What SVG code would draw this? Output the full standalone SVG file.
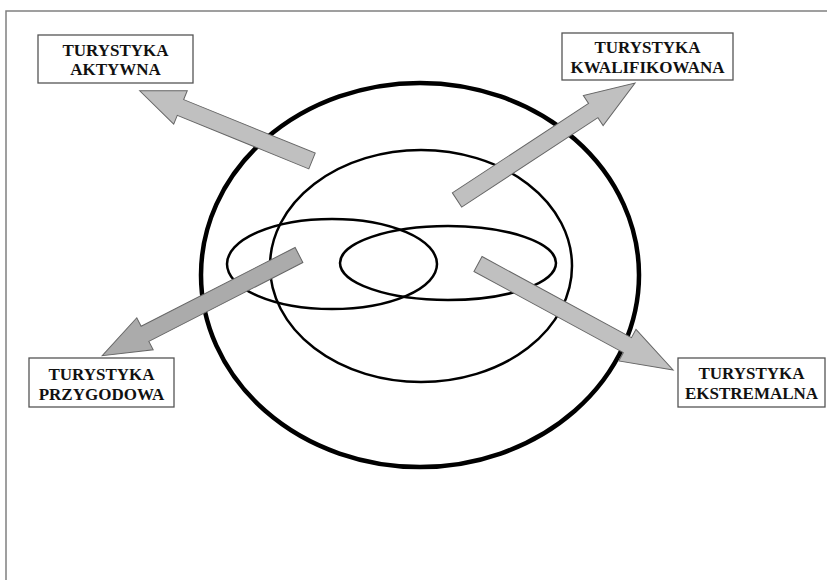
<svg xmlns="http://www.w3.org/2000/svg" width="827" height="580" viewBox="0 0 827 580">
<style>
.frame{fill:none;stroke:#808080;stroke-width:1.5}
.box{fill:#fff;stroke:#555;stroke-width:1.3}
.lbl{font-family:"Liberation Serif","Times New Roman",serif;font-weight:bold;font-size:17px;fill:#111;text-anchor:middle}
.ring{fill:none;stroke:#000}
.arr{fill:#c0c0c0;stroke:#666;stroke-width:1}
</style>
<rect width="827" height="580" fill="#fff"/>
<path class="frame" d="M6,580 V11 H827"/>
<g id="circles">
<ellipse id="outer" class="ring" cx="420" cy="275" rx="219" ry="192" stroke-width="4.5"/>
<ellipse id="middle" class="ring" cx="421" cy="266" rx="151" ry="116" stroke-width="2.5"/>
<ellipse id="left-ellipse" class="ring" cx="332" cy="264" rx="105" ry="45" stroke-width="2.5"/>
<ellipse id="right-ellipse" class="ring" cx="448" cy="263" rx="108" ry="37" stroke-width="2.5"/>
</g>
<g id="connectors">
<polygon class="arr" transform="translate(312,161) rotate(202.15)" points="0,-8.5 142,-8.5 142,-18 186,0 142,18 142,8.5 0,8.5"/>
<polygon class="arr" transform="translate(457,200) rotate(-33.3)" points="0,-8.5 163,-8.5 163,-18 213,0 163,18 163,8.5 0,8.5"/>
<polygon class="arr" style="fill:#ababab" transform="translate(299,255) rotate(152.9)" points="0,-8.5 173,-8.5 173,-18 221,0 173,18 173,8.5 0,8.5"/>
<polygon class="arr" transform="translate(478,264) rotate(28.5)" points="0,-8.5 170,-8.5 170,-18 222,0 170,18 170,8.5 0,8.5"/>
</g>
<g id="aktywna">
<rect class="box" x="38" y="35" width="155" height="48"/>
<text class="lbl" x="115.5" y="56">TURYSTYKA</text>
<text class="lbl" x="115.5" y="75">AKTYWNA</text>
</g>
<g id="kwalifikowana">
<rect class="box" x="562" y="33" width="171" height="47"/>
<text class="lbl" x="647.5" y="53">TURYSTYKA</text>
<text class="lbl" x="647.5" y="73">KWALIFIKOWANA</text>
</g>
<g id="przygodowa">
<rect class="box" x="29" y="358" width="145" height="49"/>
<text class="lbl" x="101.5" y="380">TURYSTYKA</text>
<text class="lbl" x="101.5" y="400">PRZYGODOWA</text>
</g>
<g id="ekstremalna">
<rect class="box" x="678" y="358" width="147" height="49"/>
<text class="lbl" x="751.5" y="379">TURYSTYKA</text>
<text class="lbl" x="751.5" y="399">EKSTREMALNA</text>
</g>
</svg>
